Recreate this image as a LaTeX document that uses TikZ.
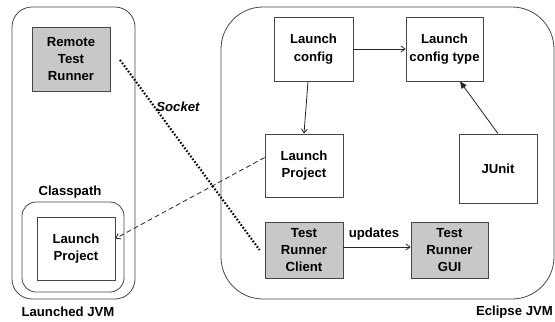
\documentclass[tikz,border=0pt]{standalone}
\usepackage{fontspec}
\setmainfont{Liberation Sans}
\usetikzlibrary{arrows.meta}
\definecolor{boxgray}{RGB}{200,200,200}
\definecolor{linegray}{RGB}{70,70,70}
\begin{document}
\begin{tikzpicture}[x=1bp,y=-1bp,
  lbl/.style={font=\fontsize{13.2}{17.5}\selectfont\bfseries, align=center, inner sep=0pt},
  box/.style={lbl, draw=linegray, line width=0.8bp, fill=white},
  graybox/.style={box, fill=boxgray},
  container/.style={draw=linegray, line width=0.8bp},
  conn/.style={line width=0.8bp, draw=black!85},
  open/.style={-{Straight Barb[length=4bp,width=6bp,line width=0.8bp]}},
  filled/.style={-{Triangle[length=7bp,width=6bp]}}
]
\useasboundingbox (0,0) rectangle (555,321);
% containers
\draw[container, rounded corners=20bp] (12,7) rectangle (135,299);
\draw[container, rounded corners=14bp] (22,202) rectangle (124,292);
\draw[container, rounded corners=42bp] (221,7) rectangle (554,299);
% nodes
\node[graybox, minimum width=78bp, minimum height=64bp] (rtr) at (71,59) {Remote\\Test\\Runner};
\node[box, minimum width=78bp, minimum height=63bp] (lp1) at (76,248.5) {Launch\\Project};
\node[box, minimum width=79bp, minimum height=64bp] (lc) at (313.5,49) {Launch\\config};
\node[box, minimum width=77bp, minimum height=64bp] (lct) at (444.5,49) {Launch\\config type};
\node[box, minimum width=78bp, minimum height=63bp] (lp2) at (304,165.5) {Launch\\Project};
\node[box, minimum width=78bp, minimum height=69bp] (junit) at (498,168.5) {JUnit};
\node[graybox, minimum width=78bp, minimum height=56bp] (trc) at (304,250) {Test\\Runner\\Client};
\node[graybox, minimum width=77bp, minimum height=56bp] (trg) at (449.5,250) {Test\\Runner\\GUI};
% labels
\node[lbl] (cp) at (70,192) {Classpath};
\node[lbl] (ljvm) at (68,312) {Launched JVM};
\node[lbl, anchor=east] (ejvm) at (553,312) {Eclipse JVM};
\node[lbl, font=\fontsize{13.2}{15}\selectfont\bfseries\itshape] (sock) at (178,107) {Socket};
\node[lbl] (upd) at (374,234) {updates};
% connectors
\draw[conn, open] (lc) -- (lct);
\draw[conn, open] ([xshift=-5.5bp]lc.south) -- (lp2.north);
\draw[conn, filled] (junit.north) -- ([xshift=15.5bp]lct.south);
\draw[conn, open] ([yshift=3bp]trc.east) -- ([yshift=3bp]trg.west);
\draw[conn, open, dash pattern=on 5bp off 3bp] ([yshift=8bp]lp2.west) -- ([yshift=10bp]lp1.east);
\coordinate (ds) at (120,60);
\draw[line width=2.1bp, dash pattern=on 1.6bp off 1.8bp] (ds) -- ([xshift=-5bp]trc.west);
\end{tikzpicture}
\end{document}
